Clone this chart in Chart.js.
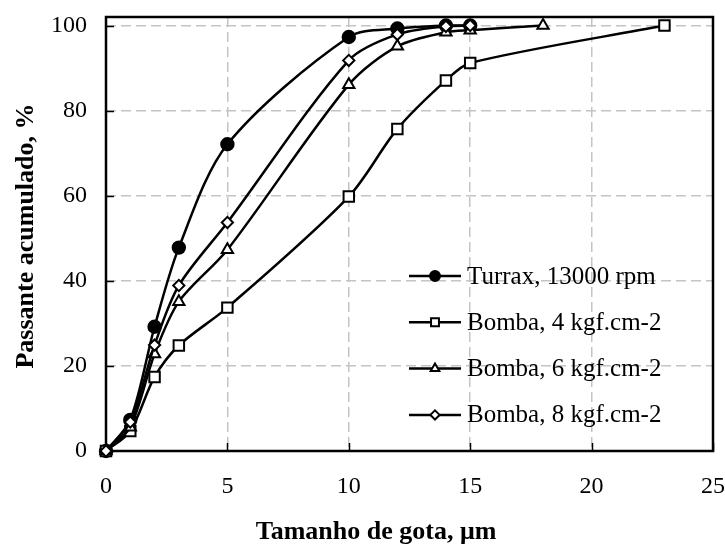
<!DOCTYPE html>
<html>
<head>
<meta charset="utf-8">
<script src="https://cdn.jsdelivr.net/npm/chart.js@4"></script>
<style>
  html, body { margin: 0; padding: 0; background: #fff; }
  canvas { display: block; }
</style>
</head>
<body>
<canvas id="gotaChart" width="725" height="554"></canvas>
<script>
// Distribuição acumulada do tamanho de gota
const xTicks = [0, 5, 10, 15, 20, 25];
const yTicks = [0, 20, 40, 60, 80, 100];

const seriesNames = ['Turrax, 13000 rpm', 'Bomba, 4 kgf.cm-2', 'Bomba, 6 kgf.cm-2', 'Bomba, 8 kgf.cm-2'];

const turraxX = [0, 1, 2, 3, 5, 10, 12, 14, 15];
const turraxY = [0, 7.3, 29.2, 47.8, 72.1, 97.3, 99.3, 100, 100];

const bomba4X = [0, 1, 2, 3, 5, 10, 12, 14, 15, 23];
const bomba4Y = [0, 4.7, 17.4, 24.8, 33.7, 59.8, 75.7, 87.1, 91.2, 100];

const bomba6X = [0, 1, 2, 3, 5, 10, 12, 14, 15, 18];
const bomba6Y = [0, 5.6, 22.8, 35.1, 47.3, 86.1, 95.1, 98.4, 98.9, 100];

const bomba8X = [0, 1, 2, 3, 5, 10, 12, 14, 15];
const bomba8Y = [0, 6.8, 24.9, 38.9, 53.7, 91.8, 97.9, 99.8, 100];

const serif = "'Liberation Serif', 'Times New Roman', serif";
Chart.defaults.font.family = serif;
Chart.defaults.color = '#000';

function pontos(xs, ys) {
    return xs.map((v, i) => ({ x: v, y: ys[i] }));
}

function serie(nome, xs, ys, estilo, raio, fundo, ordem) {
    return {
        label: nome,
        data: pontos(xs, ys),
        borderColor: '#000',
        borderWidth: 2.5,
        tension: 0.3,
        pointStyle: estilo,
        pointRadius: raio,
        pointHoverRadius: raio,
        pointBackgroundColor: fundo,
        pointBorderColor: '#000',
        pointBorderWidth: 2,
        clip: false,
        order: ordem
    };
}

const datasets = [
    serie(seriesNames[0], turraxX, turraxY, 'circle', 6.2, '#000', 3),
    serie(seriesNames[1], bomba4X, bomba4Y, 'rect', 7.4, '#fff', 2),
    serie(seriesNames[2], bomba6X, bomba6Y, 'triangle', 6.5, '#fff', 1),
    serie(seriesNames[3], bomba8X, bomba8Y, 'rectRot', 5.6, '#fff', 0)
];

// miniaturas da legenda
const legendaRaio = { circle: 5, rect: 5.6, triangle: 5, rectRot: 4.6 };

// moldura e marcas internas (antes dos dados, para os marcadores ficarem por cima)
const moldura = {
    id: 'moldura',
    beforeDatasetsDraw(chart) {
        const { ctx, chartArea: a, scales: { x, y } } = chart;
        ctx.save();
        ctx.strokeStyle = '#000';
        ctx.lineWidth = 1.5;
        ctx.beginPath();
        yTicks.forEach(v => {
            const py = Math.round(y.getPixelForValue(v)) + 0.5;
            ctx.moveTo(a.left, py);
            ctx.lineTo(a.left + 8, py);
        });
        xTicks.forEach(v => {
            const px = Math.round(x.getPixelForValue(v)) + 0.5;
            ctx.moveTo(px, a.bottom);
            ctx.lineTo(px, a.bottom - 8);
        });
        ctx.stroke();
        ctx.lineWidth = 2.5;
        ctx.strokeRect(a.left, a.top, a.right - a.left, a.bottom - a.top);
        ctx.restore();
    },
    afterDraw(chart) {
        const { ctx, chartArea: a } = chart;
        ctx.save();

        // legenda
        const lx0 = a.left + 303, lx1 = a.left + 355, tx = a.left + 361;
        ctx.font = '25px ' + serif;
        ctx.textBaseline = 'middle';
        ctx.textAlign = 'left';
        chart.data.datasets.forEach((ds, i) => {
            const ly = a.top + 259 + i * 46.3;
            ctx.strokeStyle = '#000';
            ctx.lineWidth = 2.5;
            ctx.beginPath();
            ctx.moveTo(lx0, ly);
            ctx.lineTo(lx1, ly);
            ctx.stroke();
            ctx.fillStyle = ds.pointBackgroundColor;
            ctx.lineWidth = 2;
            Chart.helpers.drawPoint(ctx, {
                pointStyle: ds.pointStyle,
                radius: legendaRaio[ds.pointStyle],
                rotation: 0,
                borderWidth: 2
            }, (lx0 + lx1) / 2, ly);
            ctx.fillStyle = '#000';
            ctx.fillText(ds.label, tx, ly + 1);
        });

        // títulos dos eixos
        ctx.font = 'bold 26px ' + serif;
        ctx.fillStyle = '#000';
        ctx.textAlign = 'center';
        ctx.textBaseline = 'alphabetic';
        ctx.fillText('Tamanho de gota, μm', 376, 539);

        ctx.translate(33, 236);
        ctx.rotate(-Math.PI / 2);
        ctx.fillText('Passante acumulado, %', 0, 0);
        ctx.restore();
    }
};

const grade = {
    color: '#c4c4c4',
    lineWidth: 1.5,
    drawTicks: false,
    tickLength: 0
};

// sem folga extra para os rótulos das pontas: a área do gráfico fica fixa
function semFolga(s) {
    s.paddingTop = 0;
    s.paddingBottom = 0;
    s.paddingLeft = 0;
    s.paddingRight = 0;
}

new Chart(document.getElementById('gotaChart'), {
    type: 'line',
    data: { datasets: datasets },
    options: {
        responsive: false,
        animation: false,
        events: [],
        layout: { padding: { top: 17, right: 12, left: 0, bottom: 0 } },
        scales: {
            x: {
                type: 'linear',
                min: 0,
                max: 25,
                afterBuildTicks: s => { s.ticks = xTicks.map(v => ({ value: v })); },
                afterFit: s => { s.height = 103; semFolga(s); },
                grid: grade,
                border: { display: false, dash: [10, 5] },
                ticks: { padding: 21, font: { size: 24 }, maxRotation: 0 }
            },
            y: {
                type: 'linear',
                min: 0,
                max: 102,
                afterBuildTicks: s => { s.ticks = yTicks.map(v => ({ value: v })); },
                afterFit: s => { s.width = 106; semFolga(s); },
                grid: grade,
                border: { display: false, dash: [10, 5] },
                ticks: { padding: 19, font: { size: 24 } }
            }
        },
        plugins: {
            legend: { display: false },
            tooltip: { enabled: false }
        }
    },
    plugins: [moldura]
});
</script>
</body>
</html>
